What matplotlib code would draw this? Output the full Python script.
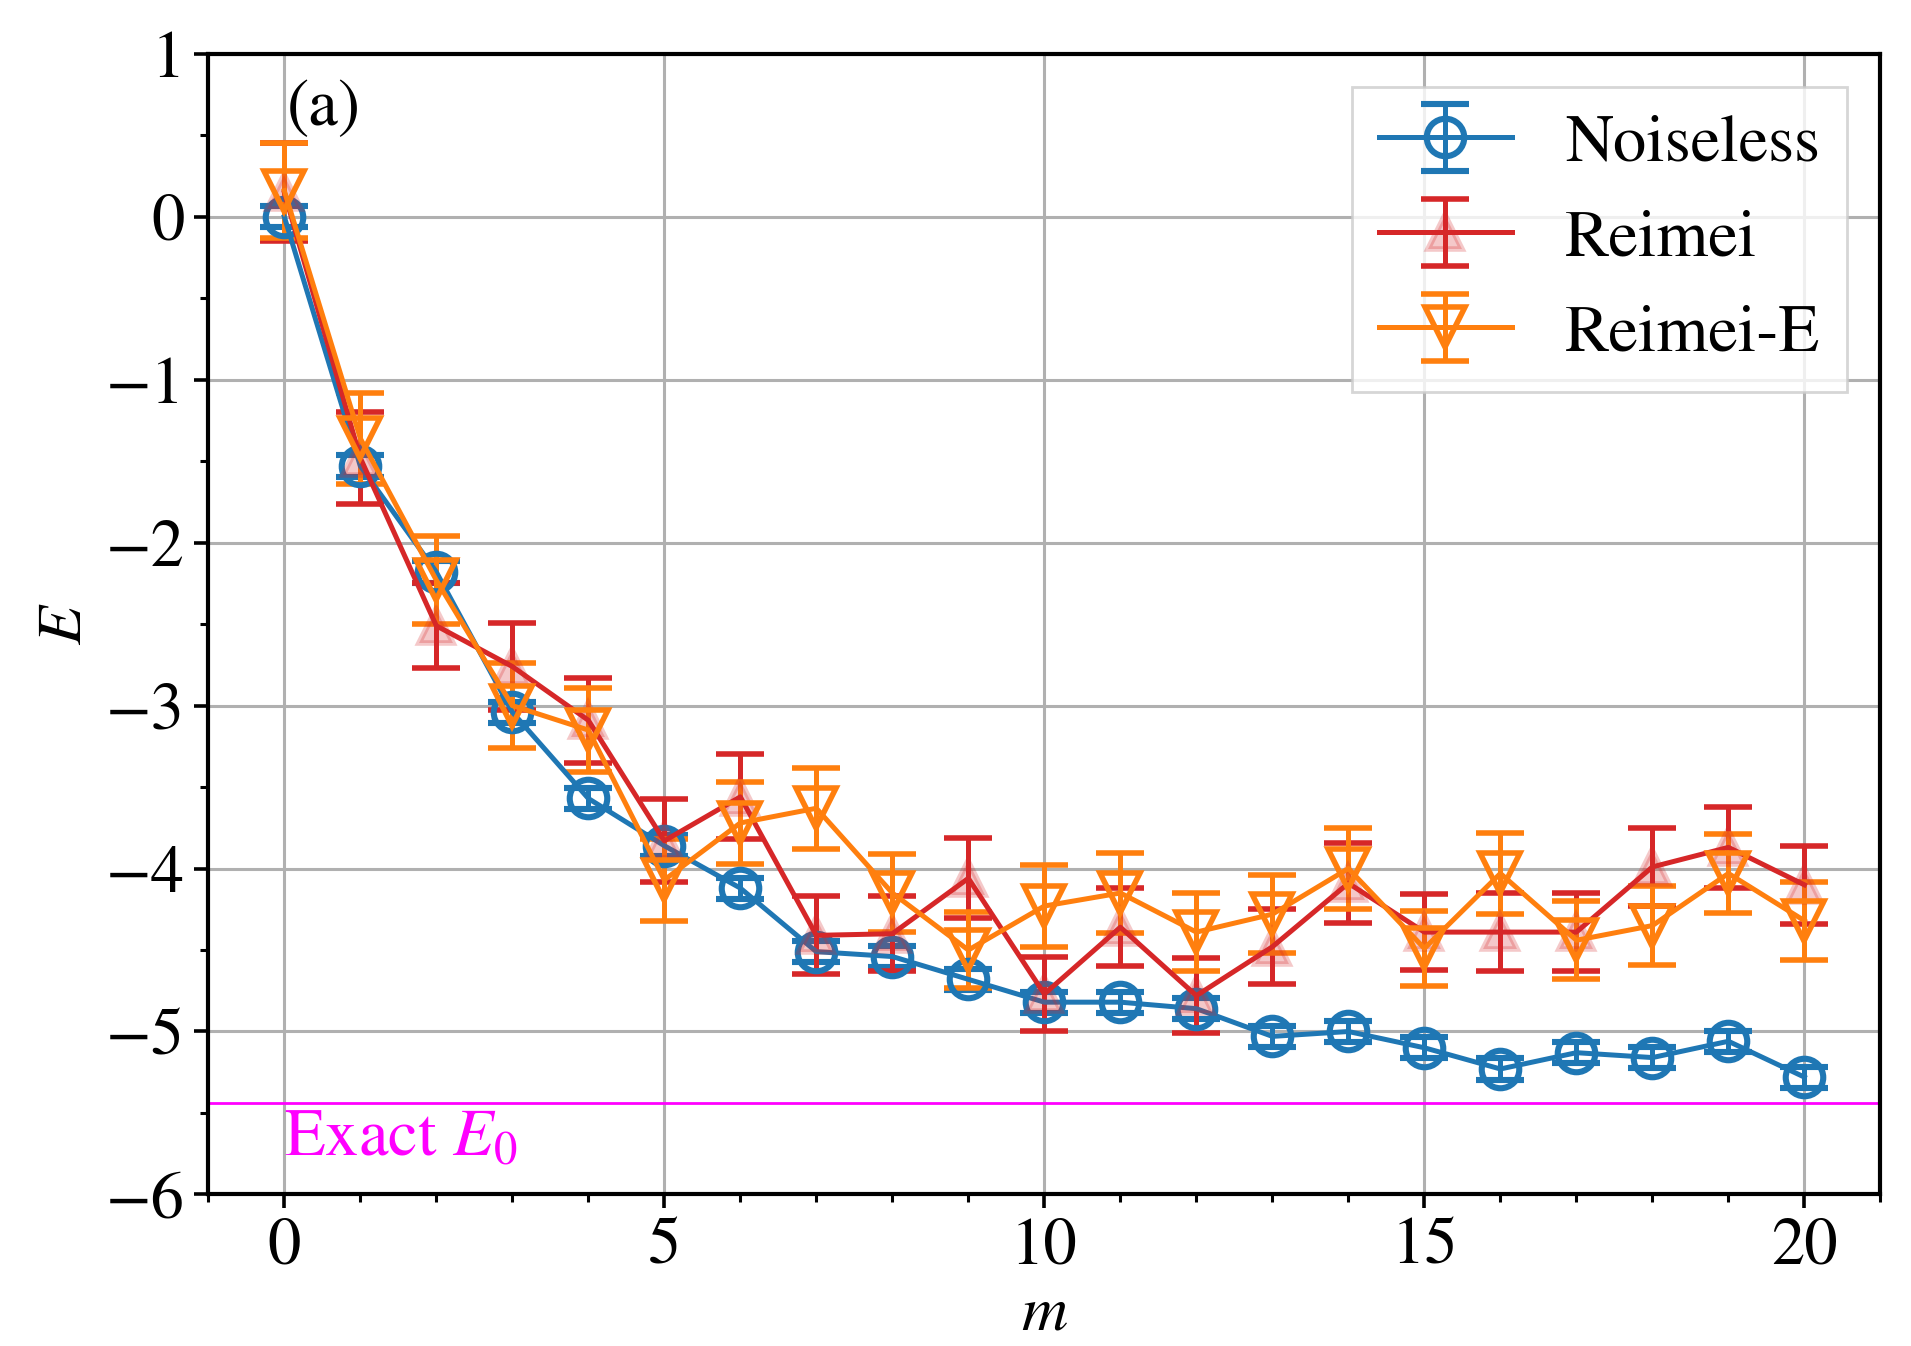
import matplotlib
matplotlib.use("Agg")
import matplotlib.pyplot as plt
from matplotlib.ticker import MultipleLocator

plt.rcParams['font.family'] = ['STIXGeneral', 'Liberation Serif', 'DejaVu Serif']
plt.rcParams['mathtext.fontset'] = 'stix'

# DATA
m = list(range(21))
noiseless = [0.00, -1.53, -2.18, -3.04, -3.57, -3.86, -4.12, -4.51, -4.54, -4.68, -4.82,
             -4.82, -4.86, -5.03, -5.00, -5.10, -5.23, -5.13, -5.16, -5.06, -5.28]
noiseless_err = [0.065] * 21
reimei = [0.15, -1.48, -2.51, -2.76, -3.09, -3.83, -3.56, -4.41, -4.40, -4.06, -4.77,
          -4.36, -4.78, -4.48, -4.09, -4.39, -4.39, -4.39, -3.99, -3.87, -4.10]
reimei_err = [0.30, 0.28, 0.26, 0.27, 0.26, 0.255, 0.26, 0.24, 0.23, 0.245, 0.23,
              0.24, 0.23, 0.23, 0.245, 0.235, 0.24, 0.24, 0.24, 0.25, 0.24]
reimei_e = [0.16, -1.36, -2.23, -3.00, -3.15, -4.07, -3.72, -3.63, -4.15, -4.50, -4.23,
            -4.15, -4.39, -4.28, -4.00, -4.49, -4.03, -4.44, -4.35, -4.03, -4.32]
reimei_e_err = [0.29, 0.28, 0.27, 0.26, 0.26, 0.25, 0.25, 0.25, 0.24, 0.235, 0.25,
                0.245, 0.24, 0.24, 0.25, 0.23, 0.25, 0.24, 0.24, 0.245, 0.24]
E0 = -5.44

fig = plt.figure(figsize=(9.555, 6.73), dpi=200)
ax = fig.add_axes([0.109, 0.1126, 0.875, 0.8474])

lw = 1.8
cs = 8.5
ax.errorbar(m, noiseless, noiseless_err, fmt='-o', color='tab:blue', mfc='none',
            ms=13.5, mew=2.2, lw=lw, elinewidth=lw, capsize=cs, capthick=lw,
            label='Noiseless')
ax.errorbar(m, reimei, reimei_err, fmt='-^', color='tab:red',
            mfc=(0.839, 0.153, 0.157, 0.25), mec=(0.839, 0.153, 0.157, 0.25),
            ms=12.5, mew=2.0, lw=lw, elinewidth=lw, capsize=cs, capthick=lw,
            label='Reimei')
ax.errorbar(m, reimei_e, reimei_e_err, fmt='-v', color='tab:orange', mfc='none',
            ms=14.5, mew=2.0, lw=lw, elinewidth=lw, capsize=cs, capthick=lw,
            label='Reimei-E')

ax.axhline(E0, color='magenta', lw=1.0)
ax.text(0, E0 - 0.04, 'Exact $E_0$', color='magenta', fontsize=24, va='top', ha='left')
ax.text(0.047, 0.978, '(a)', transform=ax.transAxes, fontsize=24, va='top', ha='left')

ax.set_xlim(-1, 21)
ax.set_ylim(-6, 1)
ax.xaxis.set_major_locator(MultipleLocator(5))
ax.xaxis.set_minor_locator(MultipleLocator(1))
ax.yaxis.set_major_locator(MultipleLocator(1))
ax.yaxis.set_minor_locator(MultipleLocator(0.5))
ax.tick_params(which='major', labelsize=24, length=5, width=1.3)
ax.tick_params(which='minor', length=3, width=1.1)
for s in ax.spines.values():
    s.set_linewidth(1.5)
ax.grid(True, color='#b0b0b0', lw=1.1)
ax.set_axisbelow(True)

ax.set_xlabel('$m$', fontsize=23, labelpad=2)
ax.set_ylabel('$E$', fontsize=23)

ax.legend(loc='upper right', fontsize=24, fancybox=False, framealpha=0.8,
          edgecolor='#cccccc', handlelength=2.0)

fig.savefig('out.png', dpi=200)
